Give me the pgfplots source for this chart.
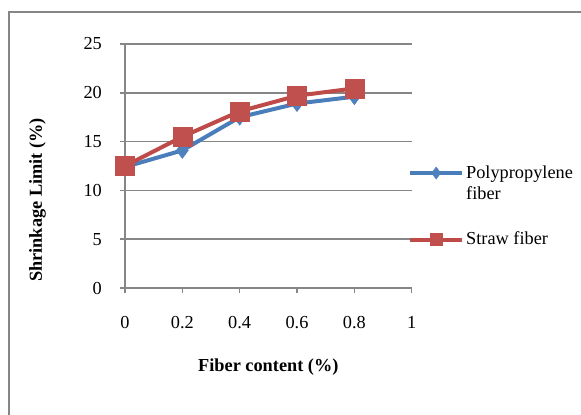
\documentclass[border=0pt]{standalone}
\usepackage{pgfplots}
\pgfplotsset{compat=1.18}
\usepackage{fontspec}
\setmainfont{Liberation Serif}
\definecolor{gridgray}{RGB}{134,134,134}
\definecolor{pblue}{RGB}{74,126,187}
\definecolor{pbluef}{RGB}{79,129,189}
\definecolor{sred}{RGB}{190,75,72}
\definecolor{sredf}{RGB}{192,80,77}
\newcommand\myfont{\fontsize{18.3}{21}\selectfont}
\begin{document}
\myfont
\begin{tikzpicture}
\useasboundingbox (0,0) rectangle (581pt,-415pt);
\draw[gridgray, line width=1.5pt] (9pt,-420pt) -- (9pt,-12pt) -- (590pt,-12pt);
\begin{axis}[
  at={(125pt,-288pt)}, anchor=south west,
  scale only axis, width=286.7pt, height=244pt,
  xmin=0, xmax=1, ymin=0, ymax=25,
  axis x line=bottom, axis y line=left,
  axis line style={-, gridgray, line width=1.5pt},
  xtick={0,0.2,0.4,0.6,0.8,1},
  xticklabels={0,0.2,0.4,0.6,0.8,1},
  ytick={0,5,10,15,20,25},
  tick align=outside, major tick length=5pt,
  tick style={gridgray, line width=1.5pt},
  ymajorgrids, grid style={gridgray, line width=1.5pt},
  /pgf/number format/assume math mode=true,
  tick label style={font=\myfont},
  xticklabel style={anchor=north, inner sep=0pt, yshift=-23pt},
  yticklabel style={anchor=east, inner sep=0pt, xshift=-18pt},
  xlabel={Fiber content (\%)},
  ylabel={Shrinkage Limit (\%)},
  label style={font=\myfont\bfseries},
  xlabel style={at={(axis description cs:0.5,-0.323)}, anchor=center},
  ylabel style={at={(axis description cs:-0.305,0.361)}, anchor=center},
  clip=false,
  legend cell align=left,
  legend style={draw=none, fill=none, inner sep=0pt, font=\myfont,
    at={(axis description cs:0.987,0.516)}, anchor=north west, row sep=46pt},
  legend image code/.code={\draw[mark repeat=2, mark phase=2, #1, mark size=6pt] plot coordinates {(0pt,0pt) (26pt,0pt) (52pt,0pt)};},
]
\addplot[color=pblue, line width=4pt, mark=diamond*, mark size=8pt,
  mark options={solid, fill=pbluef, draw=pbluef, line width=0.5pt}]
  coordinates {(0,12.4) (0.2,14.1) (0.4,17.5) (0.6,18.9) (0.8,19.6)};
\addlegendentry{\begin{tabular}[t]{@{}l@{}}Polypropylene\\fiber\end{tabular}}
\addplot[color=sred, line width=4pt, mark=square*, mark size=9.5pt,
  mark options={solid, fill=sredf, draw=sredf, line width=0.5pt}]
  coordinates {(0,12.5) (0.2,15.5) (0.4,18.1) (0.6,19.7) (0.8,20.45)};
\addlegendentry{Straw fiber}
\end{axis}
\end{tikzpicture}
\end{document}
